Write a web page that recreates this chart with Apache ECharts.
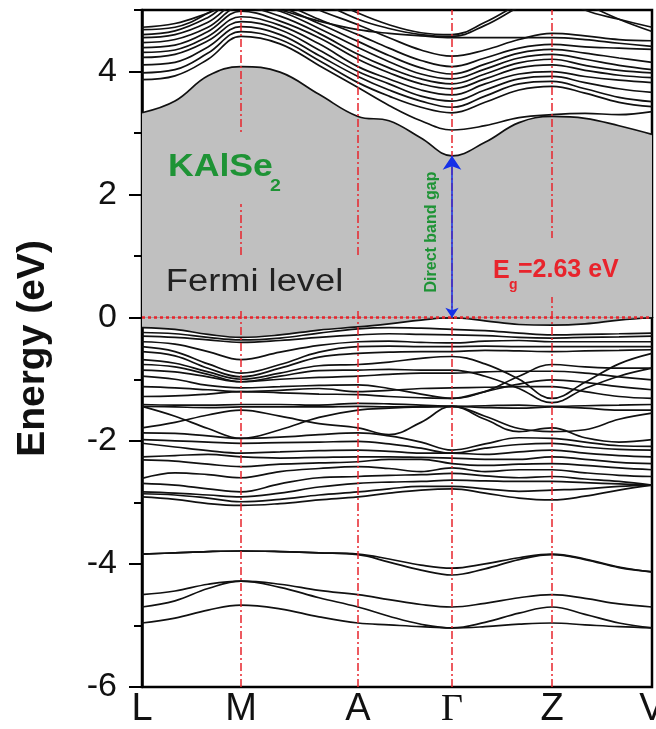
<!DOCTYPE html>
<html>
<head>
<meta charset="utf-8">
<title>KAlSe2 band structure</title>
<script src="https://cdn.jsdelivr.net/npm/echarts@6/dist/echarts.min.js"></script>
<style>
  html, body { margin: 0; padding: 0; background: #fff; }
  #chart { width: 656px; height: 729px; }
</style>
</head>
<body>
<div id="chart"></div>
<script>
// high-symmetry points along the k path
const hsK = [0, 0.99, 2.16, 3.10, 4.10, 5.10];
const hsLabels = ['L', 'M', 'A', 'Γ', 'Z', 'V'];

// k positions where the band energies were read
const kSample = [0, 0.33, 0.66, 0.99, 1.38, 1.77, 2.16, 2.47, 2.79, 3.10, 3.43, 3.77, 4.10, 4.43, 4.77, 5.10];

// conduction bands (eV)
const cb1 = [3.33, 3.52, 3.93, 4.08, 3.99, 3.63, 3.27, 3.2, 2.92, 2.63, 2.85, 3.17, 3.27, 3.24, 3.12, 2.98];
const cb2 = [3.87, 3.93, 4.2, 4.57, 4.45, 4.1, 3.74, 3.45, 3.2, 3.05, 3.12, 3.25, 3.3, 3.32, 3.3, 3.35];
const cb3 = [3.98, 4.03, 4.3, 4.65, 4.52, 4.18, 3.82, 3.6, 3.42, 3.33, 3.5, 3.7, 3.76, 3.65, 3.5, 3.43];
const cb4 = [4.11, 4.15, 4.4, 4.73, 4.6, 4.26, 3.92, 3.7, 3.52, 3.42, 3.6, 3.8, 3.84, 3.72, 3.58, 3.51];
const cb5 = [4.23, 4.28, 4.5, 4.81, 4.68, 4.35, 4.0, 3.8, 3.6, 3.52, 3.7, 3.88, 3.92, 3.82, 3.72, 3.66];
const cb6 = [4.31, 4.35, 4.57, 4.89, 4.75, 4.45, 4.08, 3.88, 3.7, 3.62, 3.8, 3.96, 4.0, 3.92, 3.86, 3.82];
const cb7 = [4.39, 4.43, 4.65, 4.98, 4.82, 4.55, 4.2, 3.98, 3.8, 3.72, 3.88, 4.06, 4.11, 4.02, 3.94, 3.9];
const cb8 = [4.47, 4.52, 4.72, 5.05, 4.9, 4.62, 4.28, 4.06, 3.88, 3.8, 3.96, 4.14, 4.2, 4.1, 4.02, 3.98];
const cb9 = [4.55, 4.6, 4.8, 5.12, 4.98, 4.7, 4.39, 4.16, 3.96, 3.88, 4.04, 4.22, 4.28, 4.2, 4.1, 4.03];
const cb10 = [4.6, 4.66, 4.88, 5.2, 5.05, 4.78, 4.49, 4.26, 4.06, 3.96, 4.12, 4.3, 4.36, 4.3, 4.22, 4.15];
const cb11 = [4.68, 4.72, 4.95, 5.3, 5.12, 4.85, 4.6, 4.38, 4.18, 4.08, 4.22, 4.38, 4.44, 4.4, 4.38, 4.36];
const cb12 = [4.72, 4.78, 4.95, 5.15, 5.0, 4.82, 4.68, 4.62, 4.58, 4.55, 4.55, 4.55, 4.55, 4.52, 4.46, 4.41];
const cb13 = [5.1, 5.15, 5.3, 5.4, 5.3, 5.0, 4.76, 4.55, 4.35, 4.25, 4.35, 4.52, 4.62, 4.58, 4.52, 4.5];
const cb14 = [5.3, 5.35, 5.5, 5.7, 5.5, 5.15, 4.85, 4.7, 4.6, 4.57, 4.75, 5.05, 5.3, 5.0, 4.85, 4.72];
const cb15 = [5.4, 5.45, 5.6, 5.8, 5.6, 5.25, 4.95, 4.76, 4.63, 4.6, 4.8, 5.1, 5.35, 5.1, 4.85, 4.65];

// valence bands (eV)
const vb1 = [-0.16, -0.19, -0.27, -0.32, -0.28, -0.2, -0.15, -0.1, -0.04, 0, -0.05, -0.11, -0.12, -0.1, -0.04, 0];
const vb2 = [-0.24, -0.26, -0.32, -0.36, -0.33, -0.25, -0.18, -0.16, -0.17, -0.19, -0.21, -0.25, -0.28, -0.27, -0.26, -0.25];
const vb3 = [-0.3, -0.32, -0.36, -0.4, -0.37, -0.32, -0.28, -0.26, -0.27, -0.28, -0.29, -0.32, -0.33, -0.32, -0.31, -0.3];
const vb4 = [-0.39, -0.43, -0.55, -0.68, -0.56, -0.45, -0.39, -0.38, -0.4, -0.41, -0.38, -0.37, -0.39, -0.39, -0.39, -0.39];
const vb5 = [-0.47, -0.55, -0.75, -0.9, -0.76, -0.56, -0.47, -0.46, -0.47, -0.47, -0.46, -0.47, -0.47, -0.47, -0.47, -0.47];
const vb6 = [-0.55, -0.62, -0.82, -0.96, -0.82, -0.64, -0.58, -0.56, -0.55, -0.55, -0.53, -0.54, -0.55, -0.54, -0.53, -0.52];
const vb7 = [-0.68, -0.74, -0.88, -1.0, -0.9, -0.78, -0.76, -0.72, -0.66, -0.63, -0.75, -1.0, -1.31, -1.05, -0.75, -0.58];
const vb8 = [-0.76, -0.8, -0.92, -1.04, -0.95, -0.86, -0.85, -0.84, -0.85, -0.85, -0.95, -1.15, -1.38, -1.15, -0.95, -0.82];
const vb9 = [-0.85, -0.88, -0.96, -1.04, -1.0, -0.97, -0.95, -0.92, -0.9, -0.9, -0.88, -0.87, -0.87, -0.9, -0.96, -1.01];
const vb10 = [-0.95, -1.0, -1.1, -1.14, -1.12, -1.1, -1.09, -1.15, -1.24, -1.31, -1.2, -1.08, -1.01, -1.05, -1.12, -1.17];
const vb11 = [-1.12, -1.14, -1.17, -1.2, -1.18, -1.15, -1.2, -1.18, -1.15, -1.14, -1.13, -1.12, -1.12, -1.2, -1.28, -1.31];
const vb12 = [-1.28, -1.27, -1.24, -1.2, -1.22, -1.24, -1.25, -1.28, -1.3, -1.31, -1.2, -0.95, -0.76, -0.8, -0.82, -0.82];
const vb13 = [-1.41, -1.42, -1.42, -1.41, -1.41, -1.42, -1.39, -1.4, -1.42, -1.44, -1.43, -1.42, -1.44, -1.43, -1.42, -1.41];
const vb14 = [-1.44, -1.45, -1.46, -1.45, -1.45, -1.45, -1.44, -1.45, -1.45, -1.44, -1.46, -1.47, -1.45, -1.47, -1.5, -1.5];
const vb15 = [-1.44, -1.6, -1.8, -1.96, -1.82, -1.62, -1.5, -1.47, -1.45, -1.44, -1.6, -1.8, -1.85, -1.82, -1.65, -1.55];
const vb16 = [-1.79, -1.7, -1.58, -1.5, -1.6, -1.72, -1.79, -1.9, -1.7, -1.44, -1.65, -1.85, -1.79, -1.95, -2.02, -1.98];
const vb17 = [-1.87, -1.88, -1.92, -1.96, -1.94, -1.9, -1.87, -1.92, -2.02, -2.15, -2.05, -1.95, -1.96, -2.02, -2.08, -2.09];
const vb18 = [-1.98, -2.0, -2.02, -2.04, -2.03, -2.02, -2.01, -2.05, -2.12, -2.2, -2.12, -2.06, -2.04, -2.1, -2.14, -2.15];
const vb19 = [-2.04, -2.1, -2.16, -2.2, -2.18, -2.16, -2.15, -2.17, -2.2, -2.2, -2.22, -2.18, -2.15, -2.2, -2.24, -2.26];
const vb20 = [-2.26, -2.24, -2.22, -2.26, -2.28, -2.27, -2.26, -2.26, -2.27, -2.28, -2.3, -2.3, -2.26, -2.3, -2.35, -2.37];
const vb21 = [-2.31, -2.33, -2.38, -2.42, -2.38, -2.36, -2.34, -2.3, -2.3, -2.37, -2.4, -2.38, -2.37, -2.4, -2.44, -2.47];
const vb22 = [-2.61, -2.52, -2.55, -2.6, -2.5, -2.45, -2.42, -2.45, -2.5, -2.44, -2.5, -2.47, -2.47, -2.52, -2.56, -2.58];
const vb23 = [-2.69, -2.72, -2.78, -2.83, -2.7, -2.6, -2.58, -2.56, -2.55, -2.53, -2.57, -2.6, -2.58, -2.62, -2.66, -2.72];
const vb24 = [-2.83, -2.85, -2.88, -2.91, -2.85, -2.75, -2.69, -2.67, -2.66, -2.64, -2.65, -2.66, -2.66, -2.68, -2.7, -2.72];
const vb25 = [-2.86, -2.88, -2.93, -2.99, -2.95, -2.88, -2.83, -2.78, -2.74, -2.74, -2.78, -2.82, -2.8, -2.78, -2.74, -2.72];
const vb26 = [-2.91, -2.95, -3.02, -3.05, -3.02, -2.96, -2.91, -2.85, -2.8, -2.78, -2.85, -2.93, -2.96, -2.9, -2.8, -2.72];

// deep bands (eV)
const db1 = [-3.84, -3.82, -3.8, -3.79, -3.8, -3.82, -3.84, -3.92, -4.02, -4.07, -4.0, -3.9, -3.84, -3.92, -4.05, -4.13];
const db2 = [-3.84, -3.82, -3.8, -3.79, -3.8, -3.82, -3.85, -3.97, -4.1, -4.18, -4.08, -3.93, -3.85, -3.93, -4.06, -4.13];
const db3 = [-4.5, -4.44, -4.33, -4.28, -4.33, -4.43, -4.5, -4.58, -4.66, -4.7, -4.64, -4.55, -4.5, -4.56, -4.65, -4.7];
const db4 = [-4.7, -4.6, -4.4, -4.28, -4.38, -4.55, -4.7, -4.85, -4.98, -5.04, -4.95, -4.8, -4.7, -4.82, -4.96, -5.04];
const db5 = [-4.96, -4.88, -4.75, -4.67, -4.73, -4.86, -4.96, -4.99, -5.02, -5.04, -5.02, -4.98, -4.96, -4.99, -5.02, -5.04];

// band gap at Gamma
const gapK = 3.10;
const gapValue = 2.63;

const conduction = [cb1, cb2, cb3, cb4, cb5, cb6, cb7, cb8, cb9, cb10, cb11, cb12, cb13, cb14, cb15];
const valence = [vb1, vb2, vb3, vb4, vb5, vb6, vb7, vb8, vb9, vb10, vb11, vb12, vb13, vb14, vb15, vb16, vb17,
  vb18, vb19, vb20, vb21, vb22, vb23, vb24, vb25, vb26];
const deep = [db1, db2, db3, db4, db5];

const FONT = '"Liberation Sans", Arial, sans-serif';
const GRAY = '#c0c0c0';
const RED = '#e8242c';
const GREEN = '#1e9335';

const chart = echarts.init(document.getElementById('chart'));

const toPoints = (band) => kSample.map((k, i) => [k, band[i]]);

// one line series per band
const bandSeries = (band, extra) => Object.assign({
  type: 'line',
  data: toPoints(band),
  smooth: 0.4,
  symbol: 'none',
  silent: true,
  z: 3,
  lineStyle: { color: '#111', width: 1.7 }
}, extra || {});

const series = [];
// gray gap region: lowest conduction band down to 0, top valence band up to 0
series.push(bandSeries(cb1, { areaStyle: { color: GRAY, opacity: 1, origin: 0 }, z: 2 }));
series.push(bandSeries(vb1, { areaStyle: { color: GRAY, opacity: 1, origin: 0 }, z: 2 }));
conduction.slice(1).forEach(b => series.push(bandSeries(b)));
valence.slice(1).forEach(b => series.push(bandSeries(b)));
deep.forEach(b => series.push(bandSeries(b)));

// red dash-dot k lines and the dotted Fermi level
series.push({
  type: 'line',
  data: [],
  silent: true,
  markLine: {
    silent: true,
    symbol: 'none',
    label: { show: false },
    z: 4,
    data: [
      ...hsK.slice(1, 5).map(k => ({ xAxis: k, lineStyle: { color: RED, width: 1.5, type: [8, 3, 2, 3] } })),
      { yAxis: 0, lineStyle: { color: RED, width: 2.5, type: [3, 3] } }
    ]
  }
});

// direct band gap arrow
series.push({
  type: 'lines',
  coordinateSystem: 'cartesian2d',
  silent: true,
  z: 6,
  symbol: ['arrow', 'arrow'],
  symbolSize: [10, 14],
  lineStyle: { color: '#1530e8', width: 1.5, opacity: 1 },
  data: [{ coords: [[gapK, 0], [gapK, gapValue]] }]
});

chart.setOption({
  animation: false,
  backgroundColor: '#fff',
  grid: {
    left: 142, right: 4, top: 10, bottom: 42,
    outerBoundsMode: 'none',
    show: true, borderColor: '#000', borderWidth: 2.5
  },
  xAxis: {
    type: 'value',
    min: 0,
    max: 5.10,
    axisLine: { lineStyle: { color: '#000', width: 2.5 } },
    axisTick: { show: false },
    splitLine: { show: false },
    axisLabel: {
      customValues: hsK,
      margin: 4,
      color: '#111',
      fontFamily: FONT,
      fontSize: 38,
      hideOverlap: false,
      formatter: (v) => {
        const i = hsK.findIndex(k => Math.abs(k - v) < 1e-6);
        const name = i >= 0 ? hsLabels[i] : '';
        return name === 'Γ' ? '{g|Γ}' : name;
      },
      rich: { g: { fontFamily: '"Liberation Serif", serif', fontSize: 38, color: '#111' } }
    }
  },
  yAxis: [
    {
      type: 'value',
      min: -6,
      max: 5,
      name: 'Energy (eV)',
      nameLocation: 'middle',
      nameGap: 89,
      nameTextStyle: { fontFamily: FONT, fontSize: 39, fontWeight: 'bold', color: '#111' },
      axisLine: { lineStyle: { color: '#000', width: 2.5 } },
      axisTick: { customValues: [-6, -4, -2, 0, 2, 4], length: 13, lineStyle: { color: '#000', width: 2 } },
      axisLabel: { customValues: [-6, -4, -2, 0, 2, 4], margin: 25, fontFamily: FONT, fontSize: 34, color: '#111' },
      splitLine: { show: false }
    },
    {
      type: 'value',
      min: -6,
      max: 5,
      position: 'left',
      axisLine: { show: false },
      axisTick: { customValues: [-5, -3, -1, 1, 3, 5], length: 8, lineStyle: { color: '#000', width: 2 } },
      axisLabel: { show: false },
      splitLine: { show: false }
    }
  ],
  series: series,
  graphic: [
    {
      type: 'text', x: 161, y: 132, z: 100, scaleX: 1.15,
      style: { text: 'KAlSe', font: 'bold 31px ' + FONT, fill: GREEN, backgroundColor: GRAY, padding: [20, 6, 21, 6] }
    },
    {
      type: 'text', x: 270, y: 186, z: 101, scaleX: 1.15,
      style: { text: '2', font: 'bold 17px ' + FONT, fill: GREEN, verticalAlign: 'middle' }
    },
    {
      type: 'text', x: 160, y: 255, z: 100, scaleX: 1.17,
      style: { text: 'Fermi level', font: '31px ' + FONT, fill: '#222', backgroundColor: GRAY, padding: [12, 16, 12, 5] }
    },
    {
      type: 'text', x: 432, y: 232, z: 100, rotation: Math.PI / 2,
      style: { text: 'Direct band gap', font: 'bold 16px ' + FONT, fill: GREEN, align: 'center', verticalAlign: 'middle' }
    },
    {
      type: 'text', x: 493, y: 271, z: 101,
      style: { text: 'E', font: 'bold 25px ' + FONT, fill: RED, verticalAlign: 'middle' }
    },
    {
      type: 'text', x: 509, y: 285, z: 101,
      style: { text: 'g', font: 'bold 14px ' + FONT, fill: RED, verticalAlign: 'middle' }
    },
    {
      type: 'text', x: 516, y: 238, z: 100,
      style: { text: '=2.63 eV', font: 'bold 25px ' + FONT, fill: RED, backgroundColor: GRAY, padding: [20, 4, 14, 2] }
    }
  ]
});
</script>
</body>
</html>
